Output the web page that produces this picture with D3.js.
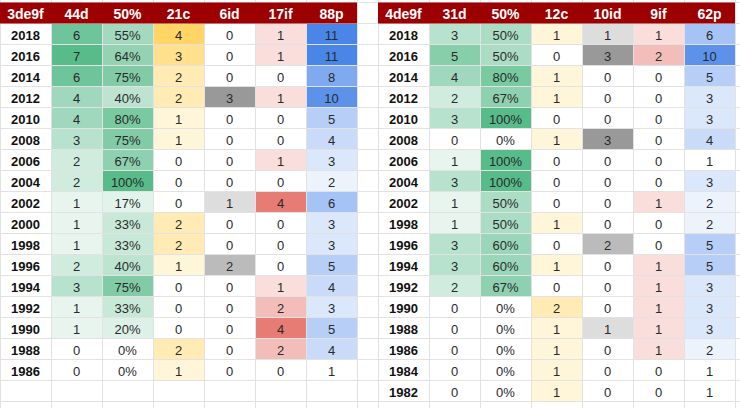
<!DOCTYPE html>
<html>
<head>
<meta charset="utf-8">
<script src="https://cdn.jsdelivr.net/npm/d3@7"></script>
<style>
  body { margin: 0; background: #fff; }
  svg { display: block; font-family: "Liberation Sans", Arial, sans-serif; }
</style>
</head>
<body>
<script>
// ---- data ----
let leftHeaders = ["3de9f", "44d", "50%", "21c", "6id", "17if", "88p"]
let leftYears = [2018, 2016, 2014, 2012, 2010, 2008, 2006, 2004, 2002, 2000, 1998, 1996, 1994, 1992, 1990, 1988, 1986]
let leftD   = [6, 7, 6, 4, 4, 3, 2, 2, 1, 1, 1, 2, 3, 1, 1, 0, 0]
let leftPct = [0.55, 0.64, 0.75, 0.40, 0.80, 0.75, 0.67, 1.00, 0.17, 0.33, 0.33, 0.40, 0.75, 0.33, 0.20, 0, 0]
let leftC   = [4, 3, 2, 2, 1, 1, 0, 0, 0, 2, 2, 1, 0, 0, 0, 2, 1]
let leftId  = [0, 0, 0, 3, 0, 0, 0, 0, 1, 0, 0, 2, 0, 0, 0, 0, 0]
let leftIf  = [1, 1, 0, 1, 0, 0, 1, 0, 4, 0, 0, 0, 1, 2, 4, 2, 0]
let leftP   = [11, 11, 8, 10, 5, 4, 3, 2, 6, 3, 3, 5, 4, 3, 5, 4, 1]

let rightHeaders = ["4de9f", "31d", "50%", "12c", "10id", "9if", "62p"]
let rightYears = [2018, 2016, 2014, 2012, 2010, 2008, 2006, 2004, 2002, 1998, 1996, 1994, 1992, 1990, 1988, 1986, 1984, 1982]
let rightD   = [3, 5, 4, 2, 3, 0, 1, 3, 1, 1, 3, 3, 2, 0, 0, 0, 0, 0]
let rightPct = [0.50, 0.50, 0.80, 0.67, 1.00, 0, 1.00, 1.00, 0.50, 0.50, 0.60, 0.60, 0.67, 0, 0, 0, 0, 0]
let rightC   = [1, 0, 1, 1, 0, 1, 0, 0, 0, 1, 0, 1, 0, 2, 1, 1, 1, 1]
let rightId  = [1, 3, 0, 0, 0, 3, 0, 0, 0, 0, 2, 0, 0, 0, 1, 0, 0, 0]
let rightIf  = [1, 2, 0, 0, 0, 0, 0, 0, 1, 0, 0, 1, 1, 1, 1, 1, 0, 0]
let rightP   = [6, 10, 5, 3, 3, 4, 1, 3, 2, 2, 5, 5, 3, 3, 3, 2, 1, 1]

// ---- layout ----
let width = 740
let height = 408
let colW = 51
let rowH = 21
let topY = 2.5
let nRows = 20

let headerFill = "#9c0000"
let gridColor = "#e2e2e2"
let scaleColors = ["#57bb8a", "#57bb8a", "#ffd666", "#999999", "#e67c73", "#4a86e8"]

let svg = d3.select("body").append("svg")
    .attr("width", width)
    .attr("height", height)

let y = d3.scaleBand().domain(d3.range(nRows)).range([topY, topY + rowH * nRows])

// one colour scale per column, shared by both tables (like one sheet rule)
let leftCols = [leftD, leftPct, leftC, leftId, leftIf, leftP]
let rightCols = [rightD, rightPct, rightC, rightId, rightIf, rightP]
let colorScales = leftCols.map(function (col, i) {
    let all = col.concat(rightCols[i])
    return d3.scaleLinear()
        .domain([d3.min(all), d3.max(all)])
        .range(["#ffffff", scaleColors[i]])
        .interpolate(d3.interpolateRgb)
})
let fmt = [d3.format("d"), d3.format(".0%"), d3.format("d"), d3.format("d"), d3.format("d"), d3.format("d")]

// gridlines under everything
let grid = svg.append("g")
let vLines = d3.range(0, 8).map(d => d * colW).concat(d3.range(0, 8).map(d => 378 + d * colW))
grid.selectAll(".v").data(vLines).enter().append("line")
    .attr("x1", d => d + 0.5).attr("x2", d => d + 0.5)
    .attr("y1", 0).attr("y2", height)
    .attr("stroke", gridColor)
grid.selectAll(".h").data(d3.range(nRows + 1)).enter().append("line")
    .attr("x1", 0).attr("x2", width)
    .attr("y1", d => topY + d * rowH).attr("y2", d => topY + d * rowH)
    .attr("stroke", gridColor)

function drawTable(x0, headers, years, cols) {
    let x = d3.scaleBand().domain(d3.range(headers.length)).range([x0, x0 + colW * headers.length])
    let g = svg.append("g")

    g.append("rect")
        .attr("x", x(0)).attr("y", y(0))
        .attr("width", colW * headers.length).attr("height", y.bandwidth())
        .attr("fill", headerFill)

    g.selectAll(".head").data(headers).enter().append("text")
        .attr("x", (d, i) => x(i) + x.bandwidth() / 2)
        .attr("y", y(0) + y.bandwidth() / 2 + 6)
        .attr("text-anchor", "middle")
        .attr("fill", "#fff")
        .attr("font-weight", "bold")
        .attr("font-size", 14)
        .text(d => d)

    g.selectAll(".year").data(years).enter().append("text")
        .attr("x", x(0) + x.bandwidth() / 2)
        .attr("y", (d, i) => y(i + 1) + y.bandwidth() / 2 + 5.5)
        .attr("text-anchor", "middle")
        .attr("fill", "#111")
        .attr("font-weight", "bold")
        .attr("font-size", 13)
        .text(d => d)

    cols.forEach(function (col, c) {
        let cells = g.append("g")
        cells.selectAll("rect").data(col).enter().append("rect")
            .attr("x", x(c + 1) + 1)
            .attr("y", (d, i) => y(i + 1) + 0.5)
            .attr("width", x.bandwidth() - 1)
            .attr("height", y.bandwidth() - 1)
            .attr("fill", d => colorScales[c](d))
        cells.selectAll("text").data(col).enter().append("text")
            .attr("x", x(c + 1) + x.bandwidth() / 2)
            .attr("y", (d, i) => y(i + 1) + y.bandwidth() / 2 + 5.5)
            .attr("text-anchor", "middle")
            .attr("fill", "#2a2a2a")
            .attr("font-size", 13)
            .text(d => fmt[c](d))
    })
}

drawTable(0, leftHeaders, leftYears, leftCols)
drawTable(378, rightHeaders, rightYears, rightCols)
</script>
</body>
</html>
